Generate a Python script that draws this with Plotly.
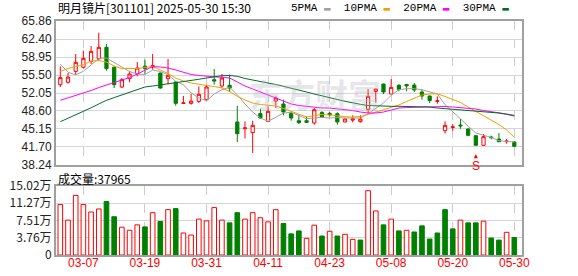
import plotly.graph_objects as go

# ---------------- data ----------------
dates = ["03-04","03-05","03-06","03-07","03-10","03-11","03-12","03-13","03-14","03-17",
         "03-18","03-19","03-20","03-21","03-24","03-25","03-26","03-27","03-28","03-31",
         "04-01","04-02","04-03","04-07","04-08","04-09","04-10","04-11","04-14","04-15",
         "04-16","04-17","04-18","04-21","04-22","04-23","04-24","04-25","04-28","04-29",
         "04-30","05-06","05-07","05-08","05-09","05-12","05-13","05-14","05-15","05-16",
         "05-19","05-20","05-21","05-22","05-23","05-26","05-27","05-28","05-29","05-30"]

opens = [53.65,54.10,56.20,56.97,58.12,58.64,60.81,56.97,53.20,54.80,
         55.70,57.20,57.03,55.88,54.80,54.16,50.05,50.07,50.45,50.77,
         54.60,53.40,53.52,46.49,45.20,44.44,48.10,46.61,50.51,49.94,
         48.10,46.74,46.74,46.30,48.34,48.15,48.08,46.49,46.85,46.55,
         48.92,52.37,53.77,51.86,53.52,53.70,53.58,52.24,51.47,50.45,
         44.82,45.45,45.90,45.14,43.87,42.01,43.60,43.23,42.72,42.65]
highs = [57.16,55.88,59.53,60.17,61.06,63.62,61.45,57.16,54.93,56.20,
         57.99,58.44,59.53,55.94,58.60,54.30,51.47,51.86,53.33,53.65,
         56.65,55.70,55.57,49.60,46.60,46.74,49.04,49.50,51.41,50.77,
         48.53,47.89,47.57,49.17,48.53,48.40,48.34,47.25,47.77,47.77,
         52.82,52.82,53.84,54.73,53.77,53.77,53.97,52.69,51.55,51.40,
         46.61,46.10,47.06,45.33,43.87,44.18,43.87,44.38,43.23,42.78]
lows = [53.20,53.84,55.57,56.72,57.61,58.25,56.33,53.01,53.01,54.10,
        55.25,55.69,56.53,52.90,53.70,49.60,49.95,49.81,50.13,50.64,
        53.65,53.00,52.24,42.65,43.35,40.54,47.13,46.48,49.17,47.77,
        46.74,46.10,46.36,45.97,47.25,47.50,45.97,46.42,46.42,46.36,
        48.21,50.20,51.86,51.86,52.37,52.37,52.24,50.77,50.13,50.00,
        44.25,44.82,45.20,43.74,41.95,41.95,43.16,42.59,42.33,41.69]
closes = [55.00,55.10,57.93,58.70,60.04,60.81,56.72,53.65,54.60,55.69,
          56.84,56.75,57.29,53.00,55.44,50.07,50.15,50.50,51.80,53.20,
          54.35,54.93,53.00,44.25,45.35,45.85,47.25,48.53,51.09,48.40,
          47.25,46.36,46.42,48.85,47.45,47.90,46.49,47.06,47.10,47.05,
          51.41,52.82,52.24,53.13,52.75,53.40,52.62,51.47,50.60,50.55,
          45.85,45.55,45.75,43.93,42.01,43.67,43.50,42.72,42.82,41.82]

volumes = [109800,75900,129700,109800,93600,100200,116400,83300,60500,53800,
           65600,61200,92100,73000,98700,101000,47900,43500,78100,74400,
           103200,75900,70000,92100,78100,92100,81100,72200,98700,68500,
           46000,52400,36200,64900,41300,51600,41300,45000,34000,32500,
           140000,95800,65600,78100,52400,53800,50100,63400,34700,47900,
           98700,56800,75900,70000,70000,73700,36900,32500,49400,37965]

ma5 = [57.61,56.02,55.54,56.21,57.42,58.67,58.76,57.90,56.94,56.17,
       55.69,55.60,56.46,56.17,55.56,54.29,53.64,52.05,51.09,50.57,
       51.86,52.68,53.14,51.72,49.94,48.40,47.25,46.62,47.39,48.21,
       48.35,47.77,47.12,47.25,47.39,47.25,47.35,47.25,47.25,47.25,
       48.08,49.17,50.13,51.61,52.68,52.87,52.87,52.68,52.24,51.86,
       49.80,48.54,47.12,45.66,44.38,43.94,43.55,42.90,42.79,42.65]
ma10 = [56.17,56.75,57.13,57.47,58.19,58.28,57.99,57.23,56.75,56.71,
        56.75,56.94,57.13,56.46,55.79,54.93,54.35,53.97,53.68,53.49,
        53.30,53.01,52.33,51.42,50.71,50.13,49.84,49.69,49.56,49.08,
        48.54,47.93,47.45,47.70,47.93,47.83,47.64,47.50,47.45,47.54,
        47.93,48.40,48.79,49.27,49.75,50.42,51.09,51.67,51.86,51.90,
        51.38,50.80,50.23,49.36,48.50,47.73,46.87,46.01,44.95,43.55]
ma20 = [50.65,51.09,51.55,51.99,52.53,53.10,53.58,54.06,54.54,55.02,
        55.69,56.46,57.13,57.04,56.84,56.46,55.98,55.60,55.41,55.31,
        55.21,55.06,54.93,54.16,53.39,52.82,52.24,51.57,50.99,50.42,
        49.94,49.65,49.46,49.31,49.17,49.17,49.04,48.88,48.69,48.40,
        48.21,48.21,48.40,48.79,49.17,49.27,49.31,49.36,49.46,49.50,
        49.46,49.36,49.27,49.11,48.98,48.69,48.50,48.27,48.02,47.77]
ma30 = [46.54,47.20,47.83,48.46,49.21,49.94,50.65,51.17,51.67,52.15,
        52.72,53.20,53.39,53.58,53.91,54.10,54.29,54.49,54.68,54.93,
        55.21,55.37,55.41,55.25,54.83,54.54,54.35,54.00,53.68,53.33,
        53.01,52.63,52.24,51.86,51.47,51.19,50.80,50.46,50.13,49.88,
        49.65,49.56,49.50,49.50,49.50,49.50,49.50,49.50,49.36,49.17,
        49.04,48.88,48.79,48.69,48.60,48.50,48.35,48.21,47.96,47.64]

ma_names = ["5PMA", "10PMA", "20PMA", "30PMA"]

price_ticks = [38.24, 41.70, 45.15, 48.60, 52.05, 55.50, 58.95, 62.40, 65.86]
vol_ticks = [0, 37550, 75100, 112650, 150200]
vol_tick_text = ["0", "3.76万", "7.51万", "11.27万", "15.02万"]
x_tick_dates = ["03-07", "03-19", "03-31", "04-11", "04-23", "05-08", "05-20", "05-30"]

title_text = "明月镜片[301101] 2025-05-30 15:30"
signal_date, signal_label = "05-23", "S"
watermark = "东方财富"

# ---------------- styles ----------------
RED = "#ff0000"
GREEN = "#008000"
MA_COLORS = ["#a0a0a0", "#f0a000", "#ff00ff", "#006d2c"]
BORDER = "#a0a0a0"
GRID = "#d6d6d6"
VGRID = "#cccccc"
FONT = "Liberation Sans"
CJK = "Noto Sans CJK SC"

n = len(dates)
vol_up = [closes[0] >= opens[0]] + [closes[i] >= closes[i - 1] for i in range(1, n)]
vol_fill = ["white" if u else GREEN for u in vol_up]
vol_line = [RED if u else GREEN for u in vol_up]

fig = go.Figure()

fig.add_trace(go.Candlestick(
    x=dates, open=opens, high=highs, low=lows, close=closes,
    increasing=dict(line=dict(color=RED, width=1), fillcolor="white"),
    decreasing=dict(line=dict(color=GREEN, width=1), fillcolor=GREEN),
    whiskerwidth=0, xaxis="x", yaxis="y", showlegend=False, hoverinfo="skip"))

for name, vals, col in zip(ma_names, [ma5, ma10, ma20, ma30], MA_COLORS):
    fig.add_trace(go.Scatter(x=dates, y=vals, mode="lines", name=name,
                             line=dict(color=col, width=1), xaxis="x", yaxis="y",
                             showlegend=False, hoverinfo="skip"))

fig.add_trace(go.Bar(x=dates, y=volumes, width=0.6,
                     marker=dict(color=vol_fill, line=dict(color=vol_line, width=1)),
                     xaxis="x2", yaxis="y2", showlegend=False, hoverinfo="skip"))

x_common = dict(type="category", categoryorder="array", categoryarray=dates,
                range=[-0.56, n], tickvals=x_tick_dates, ticktext=x_tick_dates,
                showgrid=True, gridcolor=VGRID, griddash="dash", gridwidth=1,
                showline=True, mirror=True, linecolor=BORDER, linewidth=2,
                zeroline=False, ticks="", fixedrange=True, automargin=False)

y_common = dict(showgrid=True, gridcolor=GRID, gridwidth=1, zeroline=False,
                showline=True, mirror=True, linecolor=BORDER, linewidth=2, ticks="",
                fixedrange=True, automargin=False)

fig.update_layout(
    width=578, height=276,
    margin=dict(l=56, r=56, t=21, b=21, autoexpand=False),
    paper_bgcolor="white", plot_bgcolor="white",
    font=dict(family=FONT, size=12, color="#222"),
    boxgap=0.4,
    xaxis=dict(**x_common, anchor="y", domain=[0, 1], showticklabels=False,
               rangeslider=dict(visible=False)),
    xaxis2=dict(**x_common, anchor="y2", domain=[0, 1], matches="x",
                showticklabels=True, ticklabelstandoff=-4,
                tickfont=dict(color=RED, size=12, family=FONT)),
    yaxis=dict(**y_common, domain=[0.3846, 1], range=[price_ticks[0], price_ticks[-1]],
               tickvals=price_ticks, ticktext=[f"{v:.2f}" for v in price_ticks],
               tickfont=dict(size=12, color="#222", family=FONT)),
    yaxis2=dict(**y_common, domain=[0, 0.2949], range=[vol_ticks[0], vol_ticks[-1]],
                tickvals=vol_ticks, ticktext=vol_tick_text,
                tickfont=dict(size=12, color="#222", family=CJK)),
)

legend_html = "  ".join(
    f"{name} <span style='color:{col}'>▬</span>" for name, col in zip(ma_names, MA_COLORS))

annotations = [
    dict(text=title_text, xref="paper", yref="paper", x=0, y=1.0556,
         xanchor="left", yanchor="middle", showarrow=False,
         font=dict(family=CJK, size=12, color="#000")),
    dict(text=legend_html, xref="paper", yref="paper", x=0.976, y=1.0556,
         xanchor="right", yanchor="middle", showarrow=False,
         font=dict(family="Liberation Mono", size=11, color="#000")),
    dict(text=f"成交量:{volumes[-1]}", xref="paper", yref="paper", x=0, y=0.329,
         xanchor="left", yanchor="middle", showarrow=False,
         font=dict(family=CJK, size=12, color="#000")),
    dict(text=f"<b>{watermark}</b>", xref="paper", yref="paper", x=0.555, y=0.69,
         xanchor="center", yanchor="middle", showarrow=False,
         font=dict(family=CJK, size=33, color="rgba(185,185,195,0.35)")),
    dict(text=signal_label, x=signal_date, y=0.075, xref="x", yref="y domain",
         showarrow=True, arrowhead=2, arrowsize=0.8, arrowwidth=1, arrowcolor=RED,
         ax=0, ay=12, font=dict(family=FONT, size=12, color=RED)),
]
fig.update_layout(annotations=annotations)

fig.write_html("out.html", config={"displayModeBar": False})
